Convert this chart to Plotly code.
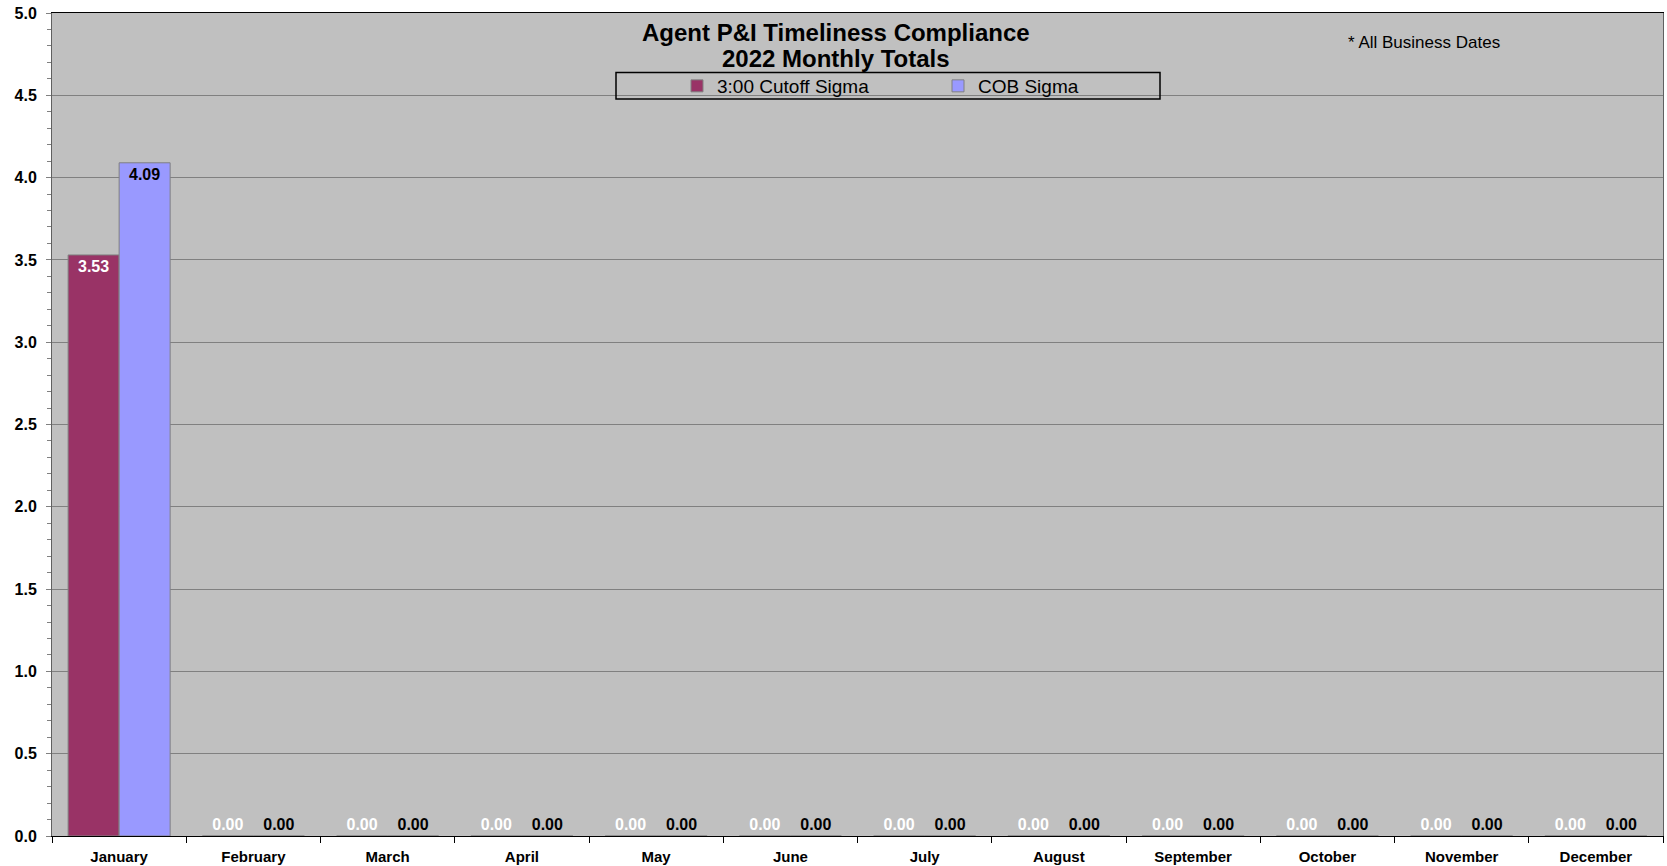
import plotly.graph_objects as go

months = ["January", "February", "March", "April", "May", "June", "July",
          "August", "September", "October", "November", "December"]
cutoff_sigma = [3.53, 0, 0, 0, 0, 0, 0, 0, 0, 0, 0, 0]
cob_sigma = [4.09, 0, 0, 0, 0, 0, 0, 0, 0, 0, 0, 0]
series_names = ["3:00 Cutoff Sigma", "COB Sigma"]
y_ticks = [0.0, 0.5, 1.0, 1.5, 2.0, 2.5, 3.0, 3.5, 4.0, 4.5, 5.0]
title_lines = ["Agent P&I Timeliness Compliance", "2022 Monthly Totals"]
note_text = "* All Business Dates"

W, H = 1667, 866
L, R, T, B = 52, 4, 13, 30
pw, ph = W - L - R, H - T - B
FONT = "Liberation Sans"


def px_x(x):
    return (x - L) / pw


def px_y(y):
    return (H - B - y) / ph


def positions(vals):
    return ["inside" if v > 0 else "outside" for v in vals]


fig = go.Figure()
fig.add_trace(go.Bar(
    x=months, y=cutoff_sigma, name=series_names[0],
    marker=dict(color="#993366", line=dict(color="#808080", width=1)),
    text=[f"{v:.2f}" for v in cutoff_sigma], textposition=positions(cutoff_sigma),
    insidetextanchor="end", textangle=0, cliponaxis=False,
    textfont=dict(family=FONT, size=16, color="white", weight="bold"),
))
fig.add_trace(go.Bar(
    x=months, y=cob_sigma, name=series_names[1],
    marker=dict(color="#9999FF", line=dict(color="#808080", width=1)),
    text=[f"{v:.2f}" for v in cob_sigma], textposition=positions(cob_sigma),
    insidetextanchor="end", textangle=0, cliponaxis=False,
    textfont=dict(family=FONT, size=16, color="black", weight="bold"),
))

fig.update_layout(
    width=W, height=H,
    margin=dict(l=L, r=R, t=T, b=B, autoexpand=False),
    paper_bgcolor="white", plot_bgcolor="#C0C0C0",
    barmode="group", bargap=0.24, bargroupgap=0,
    font=dict(family=FONT, color="black"),
    showlegend=True,
    legend=dict(
        orientation="h", x=px_x(677), xanchor="left",
        y=px_y(86), yanchor="middle",
        bgcolor="rgba(0,0,0,0)", borderwidth=0,
        font=dict(size=19, family=FONT),
        entrywidth=216, itemclick=False, itemdoubleclick=False,
    ),
    xaxis=dict(
        showline=True, linecolor="black", linewidth=1, mirror=True,
        ticks="outside", ticklen=6, tickcolor="black", tickson="boundaries",
        tickfont=dict(size=15, weight="bold"), ticklabelstandoff=7,
        showgrid=False,
    ),
    yaxis=dict(
        range=[0, 5], tickvals=y_ticks, ticktext=[f"{v:.1f}" for v in y_ticks],
        showline=True, linecolor="#606060", linewidth=1, mirror=True,
        ticks="outside", ticklen=5, tickcolor="#808080",
        minor=dict(dtick=0.1, ticks="outside", ticklen=4, tickcolor="#808080", showgrid=False),
        showgrid=True, gridcolor="#808080", gridwidth=1,
        tickfont=dict(size=16, weight="bold"), ticklabelstandoff=6,
        zeroline=False,
    ),
    shapes=[dict(
        type="rect", xref="paper", yref="paper",
        x0=px_x(616), x1=px_x(1160), y0=px_y(99), y1=px_y(72.5),
        line=dict(color="black", width=1.5), fillcolor="rgba(0,0,0,0)",
    )],
    annotations=[
        dict(text=f"<b>{title_lines[0]}</b>", xref="paper", yref="paper",
             x=px_x(835.5), xanchor="center", y=px_y(33), yanchor="middle",
             showarrow=False, font=dict(size=24, color="black")),
        dict(text=f"<b>{title_lines[1]}</b>", xref="paper", yref="paper",
             x=px_x(835.5), xanchor="center", y=px_y(59), yanchor="middle",
             showarrow=False, font=dict(size=24, color="black")),
        dict(text=note_text, xref="paper", yref="paper",
             x=px_x(1346), xanchor="left", y=px_y(42.5), yanchor="middle",
             showarrow=False, font=dict(size=17, color="black")),
    ],
)

fig.write_html(
    "out.html",
    config={"displayModeBar": False},
    post_script="document.body.style.margin='0';document.body.style.overflow='hidden';",
)
